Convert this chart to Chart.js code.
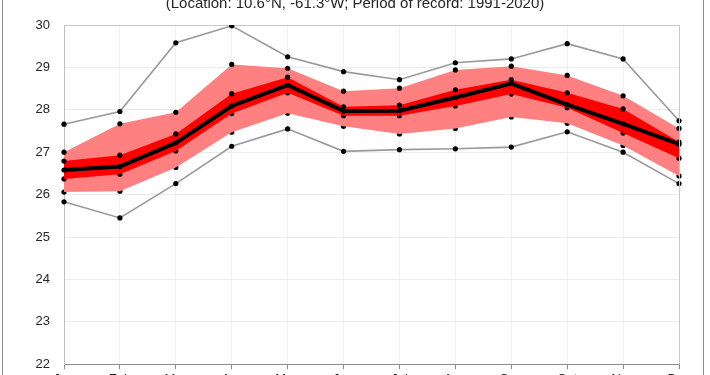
<!DOCTYPE html>
<html>
<head>
<meta charset="utf-8">
<script src="https://cdn.jsdelivr.net/npm/chart.js@4.4.0/dist/chart.umd.min.js"></script>
<style>
  html, body { margin: 0; padding: 0; background: #fff; }
  #wrap { position: relative; width: 710px; height: 375px; overflow: hidden; }
  #frame { position: absolute; left: 2px; top: -5px; width: 700px; height: 400px;
           border-left: 1px solid #8c8c8c; border-right: 1px solid #8c8c8c; }
  #box { position: absolute; left: 0; top: -18px; width: 710px; height: 404px; }
</style>
</head>
<body>
<div id="wrap">
  <div id="box"><canvas id="chart" width="710" height="404"></canvas></div>
  <div id="frame"></div>
</div>
<script>
var months = ['Jan', 'Feb', 'Mar', 'Apr', 'May', 'Jun', 'Jul', 'Aug', 'Sep', 'Oct', 'Nov', 'Dec'];
var maxT       = [27.66, 27.96, 29.58, 29.98, 29.25, 28.90, 28.71, 29.11, 29.20, 29.56, 29.20, 27.74];
var upperLight = [27.00, 27.67, 27.94, 29.07, 28.98, 28.44, 28.51, 28.94, 29.03, 28.81, 28.33, 27.56];
var upperDark  = [26.79, 26.93, 27.43, 28.38, 28.77, 28.07, 28.11, 28.47, 28.71, 28.40, 28.02, 27.24];
var meanT      = [26.58, 26.66, 27.22, 28.09, 28.58, 27.97, 27.98, 28.29, 28.62, 28.12, 27.67, 27.19];
var lowerDark  = [26.37, 26.48, 27.03, 27.91, 28.40, 27.86, 27.86, 28.09, 28.37, 28.05, 27.45, 26.86];
var lowerLight = [26.06, 26.08, 26.64, 27.47, 27.92, 27.61, 27.43, 27.56, 27.83, 27.68, 27.16, 26.44];
var minT       = [25.83, 25.45, 26.26, 27.14, 27.55, 27.02, 27.06, 27.08, 27.12, 27.48, 27.00, 26.26];
var subtitle = '(Location: 10.6\u00B0N, -61.3\u00B0W; Period of record: 1991-2020)';

function edge(values, fill, color, order){
  return {
    data: values,
    fill: fill,
    backgroundColor: color,
    borderWidth: 0,
    borderColor: 'rgba(0,0,0,0)',
    pointRadius: 2.6,
    pointBackgroundColor: '#000',
    pointBorderWidth: 0,
    tension: 0,
    order: order
  };
}

function grey(values){
  return {
    data: values,
    fill: false,
    borderColor: '#999999',
    borderWidth: 1.6,
    pointRadius: 2.6,
    pointBackgroundColor: '#000',
    pointBorderWidth: 0,
    tension: 0,
    order: 6
  };
}

// subtitle is drawn by hand, it is mostly cut off at the top
var titlePlugin = {
  id: 'subtitleText',
  afterDraw: function(chart){
    var c = chart.ctx;
    c.save();
    c.font = '15px "Liberation Sans", Arial, sans-serif';
    c.fillStyle = '#262626';
    c.textAlign = 'center';
    c.textBaseline = 'alphabetic';
    c.fillText(subtitle, 355, 26);
    // right edge of plot area
    var a = chart.chartArea;
    c.strokeStyle = '#c8c8c8';
    c.lineWidth = 1;
    c.beginPath();
    c.moveTo(a.right + 0.5, a.top);
    c.lineTo(a.right + 0.5, a.bottom);
    c.stroke();
    c.restore();
  }
};

var ctx = document.getElementById('chart');
var myChart = new Chart(ctx, {
  type: 'line',
  data: {
    labels: months,
    datasets: [
      edge(upperLight, 1, '#ff8080', 10),
      edge(lowerLight, false, '#ff8080', 10),
      edge(upperDark, 3, '#ff0000', 8),
      edge(lowerDark, false, '#ff0000', 8),
      grey(maxT),
      grey(minT),
      {
        data: meanT,
        fill: false,
        borderColor: '#000',
        borderWidth: 4,
        pointRadius: 2.6,
        pointBackgroundColor: '#000',
        pointBorderWidth: 0,
        tension: 0,
        order: 1
      }
    ]
  },
  options: {
    responsive: false,
    animation: false,
    layout: { padding: { left: 0, right: 31, top: 43, bottom: 0 } },
    plugins: {
      legend: { display: false },
      title: { display: false },
      tooltip: { enabled: false }
    },
    scales: {
      x: {
        offset: false,
        afterFit: function(scale){ scale.height = 15; },
        grid: {
          color: '#f0f0f0',
          tickColor: '#8c8c8c',
          tickLength: 5,
          drawOnChartArea: true
        },
        border: { color: '#8c8c8c', width: 1 },
        ticks: {
          padding: 2,
          maxRotation: 0,
          autoSkip: false,
          color: '#262626',
          font: { family: '"Liberation Sans", Arial, sans-serif', size: 13 }
        }
      },
      y: {
        min: 22,
        max: 30,
        afterFit: function(scale){ scale.width = 64; },
        grid: {
          drawTicks: false,
          color: function(c){ return c.tick && c.tick.value === 30 ? '#c8c8c8' : '#ebebeb'; }
        },
        border: { color: '#bfbfbf', width: 1 },
        ticks: {
          stepSize: 1,
          padding: 14,
          color: '#262626',
          font: { family: '"Liberation Sans", Arial, sans-serif', size: 13 }
        }
      }
    }
  },
  plugins: [titlePlugin]
});
</script>
</body>
</html>
